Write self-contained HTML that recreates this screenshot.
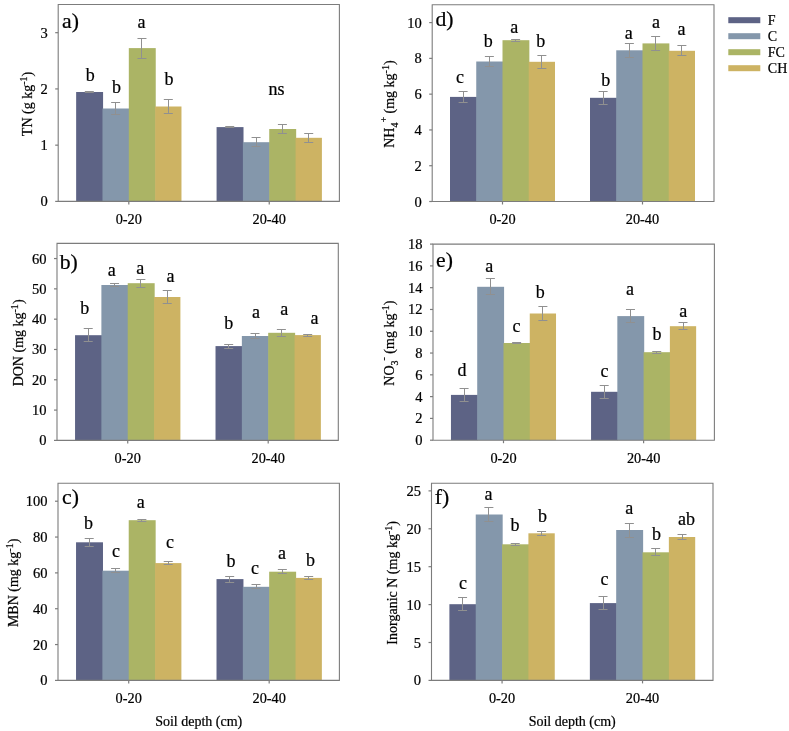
<!DOCTYPE html>
<html><head><meta charset="utf-8"><style>
html,body{margin:0;padding:0;background:#fff;}
body{width:789px;height:731px;overflow:hidden;}
svg{display:block;will-change:transform;}
text{font-family:"Liberation Serif", serif;fill:#000;stroke:#000;stroke-width:0.22px;}
</style></head><body>
<svg width="789" height="731" viewBox="0 0 789 731">
<rect x="76.15" y="92.00" width="26.93" height="109.40" fill="#5d6385"/>
<text x="90.20" y="80.60" font-size="18" text-anchor="middle">b</text>
<rect x="102.48" y="108.50" width="26.93" height="92.90" fill="#8497ab"/>
<text x="116.40" y="93.00" font-size="18" text-anchor="middle">b</text>
<rect x="128.81" y="48.10" width="26.93" height="153.30" fill="#abb465"/>
<text x="141.60" y="27.90" font-size="18" text-anchor="middle">a</text>
<rect x="155.14" y="106.50" width="26.33" height="94.90" fill="#cdb363"/>
<text x="169.10" y="85.00" font-size="18" text-anchor="middle">b</text>
<rect x="216.58" y="127.10" width="26.93" height="74.30" fill="#5d6385"/>
<rect x="242.91" y="142.20" width="26.93" height="59.20" fill="#8497ab"/>
<rect x="269.24" y="129.00" width="26.93" height="72.40" fill="#abb465"/>
<rect x="295.57" y="137.80" width="26.33" height="63.60" fill="#cdb363"/>
<path d="M84.82 91.50H93.82M89.50 91.50V92.50M84.82 92.50H93.82M111.15 102.50H120.15M115.50 102.50V114.50M111.15 114.50H120.15M137.48 38.50H146.48M141.50 38.50V58.50M137.48 58.50H146.48M163.81 99.50H172.81M168.50 99.50V113.50M163.81 113.50H172.81M225.24 126.50H234.24M229.50 126.50V127.50M225.24 127.50H234.24M251.57 137.50H260.57M256.50 137.50V146.50M251.57 146.50H260.57M277.90 124.50H286.90M282.50 124.50V133.50M277.90 133.50H286.90M304.23 133.50H313.23M308.50 133.50V142.50M304.23 142.50H313.23" stroke="#909090" stroke-width="1" fill="none"/>
<text x="276.6" y="94.5" font-size="18" text-anchor="middle">ns</text>
<path d="M57.7 4.56H339.9M339.4 4.56V201.4M57.7 201.4H339.9M58.2 4.56V201.4" fill="none" stroke="#7c7c7c" stroke-width="1.1"/>
<path d="M55.2 201.40H58.2" stroke="#7c7c7c" stroke-width="1.2"/>
<text x="47.70" y="206.40" font-size="14.5" text-anchor="end">0</text>
<path d="M55.2 145.16H58.2" stroke="#7c7c7c" stroke-width="1.2"/>
<text x="47.70" y="150.16" font-size="14.5" text-anchor="end">1</text>
<path d="M55.2 88.92H58.2" stroke="#7c7c7c" stroke-width="1.2"/>
<text x="47.70" y="93.92" font-size="14.5" text-anchor="end">2</text>
<path d="M55.2 32.68H58.2" stroke="#7c7c7c" stroke-width="1.2"/>
<text x="47.70" y="37.68" font-size="14.5" text-anchor="end">3</text>
<path d="M128.81 201.4V204.4" stroke="#7c7c7c" stroke-width="1.2"/>
<text x="128.81" y="224.20" font-size="14.3" text-anchor="middle">0-20</text>
<path d="M269.24 201.4V204.4" stroke="#7c7c7c" stroke-width="1.2"/>
<text x="269.24" y="224.20" font-size="14.3" text-anchor="middle">20-40</text>
<text x="62" y="28.3" font-size="21.7">a)</text>
<text transform="translate(31.80,103.98) rotate(-90)" font-size="14" text-anchor="middle">TN (g kg<tspan dy="-5" font-size="10">-1</tspan><tspan dy="5">)</tspan></text>
<rect x="75.05" y="335.20" width="26.94" height="105.20" fill="#5d6385"/>
<text x="84.80" y="313.50" font-size="18" text-anchor="middle">b</text>
<rect x="101.39" y="285.00" width="26.94" height="155.40" fill="#8497ab"/>
<text x="111.80" y="276.20" font-size="18" text-anchor="middle">a</text>
<rect x="127.73" y="283.20" width="26.94" height="157.20" fill="#abb465"/>
<text x="140.20" y="273.60" font-size="18" text-anchor="middle">a</text>
<rect x="154.06" y="297.00" width="26.34" height="143.40" fill="#cdb363"/>
<text x="170.40" y="282.10" font-size="18" text-anchor="middle">a</text>
<rect x="215.52" y="346.10" width="26.94" height="94.30" fill="#5d6385"/>
<text x="228.70" y="329.40" font-size="18" text-anchor="middle">b</text>
<rect x="241.86" y="336.00" width="26.94" height="104.40" fill="#8497ab"/>
<text x="255.90" y="317.90" font-size="18" text-anchor="middle">a</text>
<rect x="268.19" y="332.80" width="26.94" height="107.60" fill="#abb465"/>
<text x="284.30" y="314.70" font-size="18" text-anchor="middle">a</text>
<rect x="294.53" y="335.10" width="26.34" height="105.30" fill="#cdb363"/>
<text x="314.40" y="323.60" font-size="18" text-anchor="middle">a</text>
<path d="M83.72 328.50H92.72M88.50 328.50V341.50M83.72 341.50H92.72M110.06 283.50H119.06M114.50 283.50V286.50M110.06 286.50H119.06M136.39 279.50H145.39M140.50 279.50V287.50M136.39 287.50H145.39M162.73 290.50H171.73M167.50 290.50V303.50M162.73 303.50H171.73M224.19 344.50H233.19M228.50 344.50V348.50M224.19 348.50H233.19M250.53 333.50H259.53M255.50 333.50V338.50M250.53 338.50H259.53M276.86 329.50H285.86M281.50 329.50V336.50M276.86 336.50H285.86M303.20 334.50H312.20M307.50 334.50V336.50M303.20 336.50H312.20" stroke="#909090" stroke-width="1" fill="none"/>
<path d="M56.5 243.4H338.8M338.3 243.4V440.4M56.5 440.4H338.8M57 243.4V440.4" fill="none" stroke="#7c7c7c" stroke-width="1.1"/>
<path d="M54 440.40H57" stroke="#7c7c7c" stroke-width="1.2"/>
<text x="46.50" y="445.40" font-size="14.5" text-anchor="end">0</text>
<path d="M54 410.09H57" stroke="#7c7c7c" stroke-width="1.2"/>
<text x="46.50" y="415.09" font-size="14.5" text-anchor="end">10</text>
<path d="M54 379.78H57" stroke="#7c7c7c" stroke-width="1.2"/>
<text x="46.50" y="384.78" font-size="14.5" text-anchor="end">20</text>
<path d="M54 349.48H57" stroke="#7c7c7c" stroke-width="1.2"/>
<text x="46.50" y="354.48" font-size="14.5" text-anchor="end">30</text>
<path d="M54 319.17H57" stroke="#7c7c7c" stroke-width="1.2"/>
<text x="46.50" y="324.17" font-size="14.5" text-anchor="end">40</text>
<path d="M54 288.86H57" stroke="#7c7c7c" stroke-width="1.2"/>
<text x="46.50" y="293.86" font-size="14.5" text-anchor="end">50</text>
<path d="M54 258.55H57" stroke="#7c7c7c" stroke-width="1.2"/>
<text x="46.50" y="263.55" font-size="14.5" text-anchor="end">60</text>
<path d="M127.73 440.4V443.4" stroke="#7c7c7c" stroke-width="1.2"/>
<text x="127.73" y="463.20" font-size="14.3" text-anchor="middle">0-20</text>
<path d="M268.19 440.4V443.4" stroke="#7c7c7c" stroke-width="1.2"/>
<text x="268.19" y="463.20" font-size="14.3" text-anchor="middle">20-40</text>
<text x="59.7" y="269" font-size="21.7">b)</text>
<text transform="translate(23.00,342.90) rotate(-90)" font-size="14" text-anchor="middle">DON (mg kg<tspan dy="-5" font-size="10">-1</tspan><tspan dy="5">)</tspan></text>
<rect x="76.04" y="542.30" width="26.94" height="138.10" fill="#5d6385"/>
<text x="88.40" y="528.60" font-size="18" text-anchor="middle">b</text>
<rect x="102.38" y="570.70" width="26.94" height="109.70" fill="#8497ab"/>
<text x="115.90" y="557.00" font-size="18" text-anchor="middle">c</text>
<rect x="128.72" y="520.20" width="26.94" height="160.20" fill="#abb465"/>
<text x="140.70" y="508.20" font-size="18" text-anchor="middle">a</text>
<rect x="155.05" y="563.10" width="26.34" height="117.30" fill="#cdb363"/>
<text x="170.00" y="548.20" font-size="18" text-anchor="middle">c</text>
<rect x="216.51" y="579.10" width="26.94" height="101.30" fill="#5d6385"/>
<text x="231.00" y="566.90" font-size="18" text-anchor="middle">b</text>
<rect x="242.85" y="586.80" width="26.94" height="93.60" fill="#8497ab"/>
<text x="255.00" y="574.00" font-size="18" text-anchor="middle">c</text>
<rect x="269.18" y="571.70" width="26.94" height="108.70" fill="#abb465"/>
<text x="282.00" y="559.40" font-size="18" text-anchor="middle">a</text>
<rect x="295.52" y="577.90" width="26.34" height="102.50" fill="#cdb363"/>
<text x="310.40" y="566.00" font-size="18" text-anchor="middle">b</text>
<path d="M84.71 538.50H93.71M89.50 538.50V546.50M84.71 546.50H93.71M111.05 568.50H120.05M115.50 568.50V572.50M111.05 572.50H120.05M137.38 519.50H146.38M141.50 519.50V521.50M137.38 521.50H146.38M163.72 561.50H172.72M168.50 561.50V564.50M163.72 564.50H172.72M225.18 576.50H234.18M229.50 576.50V582.50M225.18 582.50H234.18M251.52 584.50H260.52M256.50 584.50V588.50M251.52 588.50H260.52M277.85 569.50H286.85M282.50 569.50V573.50M277.85 573.50H286.85M304.19 576.50H313.19M308.50 576.50V579.50M304.19 579.50H313.19" stroke="#909090" stroke-width="1" fill="none"/>
<path d="M57.5 483.3H339.9M339.4 483.3V680.4M57.5 680.4H339.9M58 483.3V680.4" fill="none" stroke="#7c7c7c" stroke-width="1.1"/>
<path d="M55 680.40H58" stroke="#7c7c7c" stroke-width="1.2"/>
<text x="47.50" y="685.40" font-size="14.5" text-anchor="end">0</text>
<path d="M55 644.56H58" stroke="#7c7c7c" stroke-width="1.2"/>
<text x="47.50" y="649.56" font-size="14.5" text-anchor="end">20</text>
<path d="M55 608.73H58" stroke="#7c7c7c" stroke-width="1.2"/>
<text x="47.50" y="613.73" font-size="14.5" text-anchor="end">40</text>
<path d="M55 572.89H58" stroke="#7c7c7c" stroke-width="1.2"/>
<text x="47.50" y="577.89" font-size="14.5" text-anchor="end">60</text>
<path d="M55 537.05H58" stroke="#7c7c7c" stroke-width="1.2"/>
<text x="47.50" y="542.05" font-size="14.5" text-anchor="end">80</text>
<path d="M55 501.22H58" stroke="#7c7c7c" stroke-width="1.2"/>
<text x="47.50" y="506.22" font-size="14.5" text-anchor="end">100</text>
<path d="M128.72 680.4V683.4" stroke="#7c7c7c" stroke-width="1.2"/>
<text x="128.72" y="703.20" font-size="14.3" text-anchor="middle">0-20</text>
<path d="M269.18 680.4V683.4" stroke="#7c7c7c" stroke-width="1.2"/>
<text x="269.18" y="703.20" font-size="14.3" text-anchor="middle">20-40</text>
<text x="62" y="503.7" font-size="21.7">c)</text>
<text transform="translate(18.00,582.85) rotate(-90)" font-size="14" text-anchor="middle">MBN (mg kg<tspan dy="-5" font-size="10">-1</tspan><tspan dy="5">)</tspan></text>
<text x="198.70" y="725.5" font-size="14" text-anchor="middle">Soil depth (cm)</text>
<rect x="450.00" y="96.90" width="26.85" height="104.60" fill="#5d6385"/>
<text x="459.90" y="83.20" font-size="18" text-anchor="middle">c</text>
<rect x="476.25" y="61.50" width="26.85" height="140.00" fill="#8497ab"/>
<text x="488.30" y="46.90" font-size="18" text-anchor="middle">b</text>
<rect x="502.50" y="40.20" width="26.85" height="161.30" fill="#abb465"/>
<text x="514.20" y="32.70" font-size="18" text-anchor="middle">a</text>
<rect x="528.75" y="61.80" width="26.25" height="139.70" fill="#cdb363"/>
<text x="540.80" y="46.90" font-size="18" text-anchor="middle">b</text>
<rect x="590.00" y="97.80" width="26.85" height="103.70" fill="#5d6385"/>
<text x="605.70" y="85.90" font-size="18" text-anchor="middle">b</text>
<rect x="616.25" y="50.30" width="26.85" height="151.20" fill="#8497ab"/>
<text x="628.80" y="38.90" font-size="18" text-anchor="middle">a</text>
<rect x="642.50" y="43.40" width="26.85" height="158.10" fill="#abb465"/>
<text x="655.90" y="28.20" font-size="18" text-anchor="middle">a</text>
<rect x="668.75" y="50.80" width="26.25" height="150.70" fill="#cdb363"/>
<text x="681.50" y="35.30" font-size="18" text-anchor="middle">a</text>
<path d="M458.62 91.50H467.62M463.50 91.50V102.50M458.62 102.50H467.62M484.88 56.50H493.88M489.50 56.50V66.50M484.88 66.50H493.88M511.12 39.50H520.12M515.50 39.50V41.50M511.12 41.50H520.12M537.38 55.50H546.38M541.50 55.50V68.50M537.38 68.50H546.38M598.62 91.50H607.62M603.50 91.50V104.50M598.62 104.50H607.62M624.88 43.50H633.88M629.50 43.50V57.50M624.88 57.50H633.88M651.12 36.50H660.12M655.50 36.50V50.50M651.12 50.50H660.12M677.38 45.50H686.38M681.50 45.50V55.50M677.38 55.50H686.38" stroke="#909090" stroke-width="1" fill="none"/>
<path d="M431.7 4.7H714.5M714 4.7V201.5M431.7 201.5H714.5M432.2 4.7V201.5" fill="none" stroke="#7c7c7c" stroke-width="1.1"/>
<path d="M429.2 201.50H432.2" stroke="#7c7c7c" stroke-width="1.2"/>
<text x="421.70" y="206.50" font-size="14.5" text-anchor="end">0</text>
<path d="M429.2 165.72H432.2" stroke="#7c7c7c" stroke-width="1.2"/>
<text x="421.70" y="170.72" font-size="14.5" text-anchor="end">2</text>
<path d="M429.2 129.94H432.2" stroke="#7c7c7c" stroke-width="1.2"/>
<text x="421.70" y="134.94" font-size="14.5" text-anchor="end">4</text>
<path d="M429.2 94.15H432.2" stroke="#7c7c7c" stroke-width="1.2"/>
<text x="421.70" y="99.15" font-size="14.5" text-anchor="end">6</text>
<path d="M429.2 58.37H432.2" stroke="#7c7c7c" stroke-width="1.2"/>
<text x="421.70" y="63.37" font-size="14.5" text-anchor="end">8</text>
<path d="M429.2 22.59H432.2" stroke="#7c7c7c" stroke-width="1.2"/>
<text x="421.70" y="27.59" font-size="14.5" text-anchor="end">10</text>
<path d="M502.50 201.5V204.5" stroke="#7c7c7c" stroke-width="1.2"/>
<text x="502.50" y="224.30" font-size="14.3" text-anchor="middle">0-20</text>
<path d="M642.50 201.5V204.5" stroke="#7c7c7c" stroke-width="1.2"/>
<text x="642.50" y="224.30" font-size="14.3" text-anchor="middle">20-40</text>
<text x="435.4" y="25.8" font-size="21.7">d)</text>
<text transform="translate(393.50,104.10) rotate(-90)" font-size="14" text-anchor="middle">NH<tspan dy="4" font-size="10">4</tspan><tspan dy="-11" font-size="10">+</tspan><tspan dy="7"> (mg kg</tspan><tspan dy="-5" font-size="10">-1</tspan><tspan dy="5">)</tspan></text>
<rect x="450.95" y="394.90" width="26.87" height="45.30" fill="#5d6385"/>
<text x="461.90" y="375.70" font-size="18" text-anchor="middle">d</text>
<rect x="477.22" y="286.80" width="26.87" height="153.40" fill="#8497ab"/>
<text x="489.20" y="272.40" font-size="18" text-anchor="middle">a</text>
<rect x="503.49" y="343.00" width="26.87" height="97.20" fill="#abb465"/>
<text x="516.60" y="331.90" font-size="18" text-anchor="middle">c</text>
<rect x="529.76" y="313.50" width="26.27" height="126.70" fill="#cdb363"/>
<text x="540.20" y="297.50" font-size="18" text-anchor="middle">b</text>
<rect x="591.06" y="391.80" width="26.87" height="48.40" fill="#5d6385"/>
<text x="604.50" y="377.00" font-size="18" text-anchor="middle">c</text>
<rect x="617.34" y="316.10" width="26.87" height="124.10" fill="#8497ab"/>
<text x="629.90" y="294.90" font-size="18" text-anchor="middle">a</text>
<rect x="643.61" y="352.20" width="26.87" height="88.00" fill="#abb465"/>
<text x="657.00" y="340.20" font-size="18" text-anchor="middle">b</text>
<rect x="669.88" y="326.20" width="26.27" height="114.00" fill="#cdb363"/>
<text x="683.30" y="316.60" font-size="18" text-anchor="middle">a</text>
<path d="M459.59 388.50H468.59M464.50 388.50V401.50M459.59 401.50H468.59M485.86 278.50H494.86M490.50 278.50V294.50M485.86 294.50H494.86M512.13 342.50H521.13M516.50 342.50V343.50M512.13 343.50H521.13M538.40 306.50H547.40M542.50 306.50V320.50M538.40 320.50H547.40M599.70 385.50H608.70M604.50 385.50V398.50M599.70 398.50H608.70M625.97 309.50H634.97M630.50 309.50V322.50M625.97 322.50H634.97M652.24 351.50H661.24M656.50 351.50V353.50M652.24 353.50H661.24M678.51 322.50H687.51M683.50 322.50V329.50M678.51 329.50H687.51" stroke="#909090" stroke-width="1" fill="none"/>
<path d="M432.5 244.1H714.9M714.4 244.1V440.2M432.5 440.2H714.9M433 244.1V440.2" fill="none" stroke="#7c7c7c" stroke-width="1.1"/>
<path d="M430 440.20H433" stroke="#7c7c7c" stroke-width="1.2"/>
<text x="422.50" y="445.20" font-size="14.5" text-anchor="end">0</text>
<path d="M430 418.41H433" stroke="#7c7c7c" stroke-width="1.2"/>
<text x="422.50" y="423.41" font-size="14.5" text-anchor="end">2</text>
<path d="M430 396.62H433" stroke="#7c7c7c" stroke-width="1.2"/>
<text x="422.50" y="401.62" font-size="14.5" text-anchor="end">4</text>
<path d="M430 374.83H433" stroke="#7c7c7c" stroke-width="1.2"/>
<text x="422.50" y="379.83" font-size="14.5" text-anchor="end">6</text>
<path d="M430 353.04H433" stroke="#7c7c7c" stroke-width="1.2"/>
<text x="422.50" y="358.04" font-size="14.5" text-anchor="end">8</text>
<path d="M430 331.26H433" stroke="#7c7c7c" stroke-width="1.2"/>
<text x="422.50" y="336.26" font-size="14.5" text-anchor="end">10</text>
<path d="M430 309.47H433" stroke="#7c7c7c" stroke-width="1.2"/>
<text x="422.50" y="314.47" font-size="14.5" text-anchor="end">12</text>
<path d="M430 287.68H433" stroke="#7c7c7c" stroke-width="1.2"/>
<text x="422.50" y="292.68" font-size="14.5" text-anchor="end">14</text>
<path d="M430 265.89H433" stroke="#7c7c7c" stroke-width="1.2"/>
<text x="422.50" y="270.89" font-size="14.5" text-anchor="end">16</text>
<path d="M430 244.10H433" stroke="#7c7c7c" stroke-width="1.2"/>
<text x="422.50" y="249.10" font-size="14.5" text-anchor="end">18</text>
<path d="M503.49 440.2V443.2" stroke="#7c7c7c" stroke-width="1.2"/>
<text x="503.49" y="463.00" font-size="14.3" text-anchor="middle">0-20</text>
<path d="M643.61 440.2V443.2" stroke="#7c7c7c" stroke-width="1.2"/>
<text x="643.61" y="463.00" font-size="14.3" text-anchor="middle">20-40</text>
<text x="436" y="266.5" font-size="21.7">e)</text>
<text transform="translate(394.00,343.15) rotate(-90)" font-size="14" text-anchor="middle">NO<tspan dy="4" font-size="10">3</tspan><tspan dy="-11" font-size="10">-</tspan><tspan dy="7"> (mg kg</tspan><tspan dy="-5" font-size="10">-1</tspan><tspan dy="5">)</tspan></text>
<rect x="449.40" y="604.20" width="26.94" height="76.20" fill="#5d6385"/>
<text x="463.00" y="588.50" font-size="18" text-anchor="middle">c</text>
<rect x="475.74" y="514.50" width="26.94" height="165.90" fill="#8497ab"/>
<text x="488.60" y="500.30" font-size="18" text-anchor="middle">a</text>
<rect x="502.07" y="544.30" width="26.94" height="136.10" fill="#abb465"/>
<text x="515.00" y="531.00" font-size="18" text-anchor="middle">b</text>
<rect x="528.41" y="533.30" width="26.34" height="147.10" fill="#cdb363"/>
<text x="542.40" y="522.20" font-size="18" text-anchor="middle">b</text>
<rect x="589.86" y="603.10" width="26.94" height="77.30" fill="#5d6385"/>
<text x="604.50" y="584.60" font-size="18" text-anchor="middle">c</text>
<rect x="616.19" y="530.00" width="26.94" height="150.40" fill="#8497ab"/>
<text x="629.20" y="514.10" font-size="18" text-anchor="middle">a</text>
<rect x="642.53" y="552.30" width="26.94" height="128.10" fill="#abb465"/>
<text x="656.60" y="540.40" font-size="18" text-anchor="middle">b</text>
<rect x="668.86" y="537.00" width="26.34" height="143.40" fill="#cdb363"/>
<text x="686.50" y="525.10" font-size="18" text-anchor="middle">ab</text>
<path d="M458.07 597.50H467.07M462.50 597.50V610.50M458.07 610.50H467.07M484.40 507.50H493.40M488.50 507.50V521.50M484.40 521.50H493.40M510.74 543.50H519.74M515.50 543.50V545.50M510.74 545.50H519.74M537.08 531.50H546.08M541.50 531.50V535.50M537.08 535.50H546.08M598.53 596.50H607.53M603.50 596.50V609.50M598.53 609.50H607.53M624.86 523.50H633.86M629.50 523.50V537.50M624.86 537.50H633.86M651.20 548.50H660.20M655.50 548.50V555.50M651.20 555.50H660.20M677.53 534.50H686.53M682.50 534.50V539.50M677.53 539.50H686.53" stroke="#909090" stroke-width="1" fill="none"/>
<path d="M431.0 483.3H713.5M713 483.3V680.4M431.0 680.4H713.5M431.5 483.3V680.4" fill="none" stroke="#7c7c7c" stroke-width="1.1"/>
<path d="M428.5 680.40H431.5" stroke="#7c7c7c" stroke-width="1.2"/>
<text x="421.00" y="685.40" font-size="14.5" text-anchor="end">0</text>
<path d="M428.5 642.50H431.5" stroke="#7c7c7c" stroke-width="1.2"/>
<text x="421.00" y="647.50" font-size="14.5" text-anchor="end">5</text>
<path d="M428.5 604.59H431.5" stroke="#7c7c7c" stroke-width="1.2"/>
<text x="421.00" y="609.59" font-size="14.5" text-anchor="end">10</text>
<path d="M428.5 566.69H431.5" stroke="#7c7c7c" stroke-width="1.2"/>
<text x="421.00" y="571.69" font-size="14.5" text-anchor="end">15</text>
<path d="M428.5 528.78H431.5" stroke="#7c7c7c" stroke-width="1.2"/>
<text x="421.00" y="533.78" font-size="14.5" text-anchor="end">20</text>
<path d="M428.5 490.88H431.5" stroke="#7c7c7c" stroke-width="1.2"/>
<text x="421.00" y="495.88" font-size="14.5" text-anchor="end">25</text>
<path d="M502.07 680.4V683.4" stroke="#7c7c7c" stroke-width="1.2"/>
<text x="502.07" y="703.20" font-size="14.3" text-anchor="middle">0-20</text>
<path d="M642.53 680.4V683.4" stroke="#7c7c7c" stroke-width="1.2"/>
<text x="642.53" y="703.20" font-size="14.3" text-anchor="middle">20-40</text>
<text x="434.8" y="504.4" font-size="21.7">f)</text>
<text transform="translate(396.50,582.85) rotate(-90)" font-size="14" text-anchor="middle">Inorganic N (mg kg<tspan dy="-5" font-size="10">-1</tspan><tspan dy="5">)</tspan></text>
<text x="572.25" y="725.5" font-size="14" text-anchor="middle">Soil depth (cm)</text>
<rect x="728.3" y="17.2" width="32" height="6" fill="#5d6385"/>
<text x="767.8" y="24.8" font-size="14">F</text>
<rect x="728.3" y="33.2" width="32" height="6" fill="#8497ab"/>
<text x="767.8" y="40.8" font-size="14">C</text>
<rect x="728.3" y="49.2" width="32" height="6" fill="#abb465"/>
<text x="767.8" y="56.8" font-size="14">FC</text>
<rect x="728.3" y="65.2" width="32" height="6" fill="#cdb363"/>
<text x="767.8" y="72.8" font-size="14">CH</text>
</svg>
</body></html>
